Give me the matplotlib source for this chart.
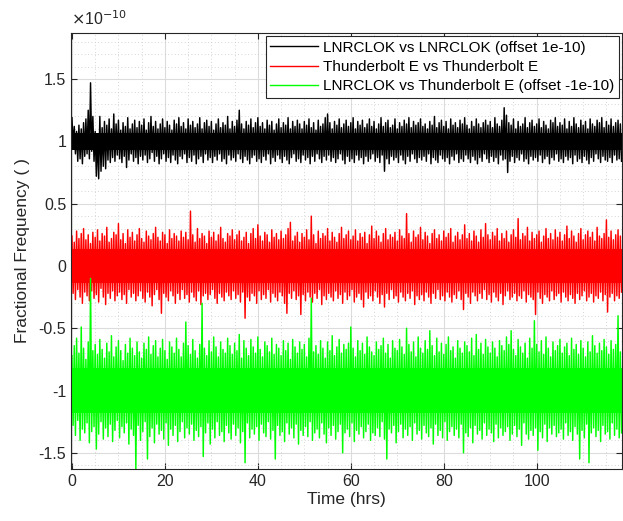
import numpy as np
import matplotlib
matplotlib.use("Agg")
import matplotlib.pyplot as plt
from matplotlib.ticker import MultipleLocator, FuncFormatter

# fractional frequency in units of 1e-12 (hundredths of the 1e-10 axis unit),
# one upper and one lower excursion per half hour
step_hrs = 0.5

black_hi = [
    119, 112, 108, 113, 110, 115, 118, 125, 147, 120,
    108, 104, 120, 111, 116, 113, 118, 110, 122, 114,
    117, 109, 115, 112, 119, 110, 114, 117, 111, 116,
    113, 118, 109, 115, 120, 112, 116, 110, 114, 118,
    111, 116, 113, 109, 117, 114, 119, 112, 115, 110,
    118, 113, 116, 111, 114, 119, 110, 115, 117, 112,
    116, 109, 114, 118, 111, 115, 113, 120, 110, 116,
    112, 117, 125, 114, 110, 116, 113, 118, 111, 115,
    119, 112, 115, 110, 117, 113, 116, 109, 114, 118,
    111, 115, 113, 119, 110, 116, 112, 117, 114, 110,
    116, 113, 118, 111, 115, 109, 117, 112, 114, 119,
    122, 115, 110, 116, 113, 118, 111, 114, 117, 112,
    115, 119, 110, 116, 113, 117, 111, 114, 118, 112,
    116, 110, 114, 119, 112, 115, 117, 111, 113, 118,
    110, 115, 112, 117, 114, 119, 111, 116, 113, 115,
    118, 112, 114, 110, 116, 113, 120, 111, 115, 117,
    112, 116, 110, 118, 113, 115, 111, 117, 114, 119,
    113, 110, 116, 112, 118, 114, 111, 115, 117, 113,
    116, 111, 119, 114, 112, 117, 127, 121, 115, 113,
    118, 110, 116, 112, 114, 119, 111, 115, 117, 112,
    114, 118, 111, 116, 113, 110, 117, 115, 119, 112,
    115, 113, 118, 110, 116, 112, 119, 114, 111, 117,
    113, 116, 110, 118, 114, 112, 117, 115, 119, 111,
    116, 113, 118, 112, 115, 117, 114]
black_lo = [
    98, 90, 84, 86, 82, 88, 90, 86, 92, 84,
    72, 70, 76, 80, 78, 85, 83, 87, 84, 89,
    86, 83, 88, 79, 85, 90, 84, 87, 82, 88,
    85, 89, 83, 86, 91, 84, 88, 82, 86, 90,
    84, 87, 83, 89, 85, 82, 88, 86, 90, 83,
    87, 84, 89, 82, 86, 88, 83, 90, 85, 87,
    83, 88, 85, 90, 84, 86, 82, 89, 85, 87,
    84, 90, 86, 83, 88, 85, 82, 87, 89, 84,
    86, 83, 88, 85, 90, 82, 87, 84, 89, 86,
    83, 88, 85, 82, 87, 90, 84, 86, 83, 89,
    85, 87, 82, 88, 84, 90, 86, 83, 88, 85,
    89, 84, 87, 83, 86, 90, 85, 82, 88, 84,
    86, 83, 89, 85, 87, 82, 88, 84, 86, 90,
    84, 87, 83, 89, 76, 86, 82, 88, 85, 87,
    83, 89, 85, 82, 88, 84, 90, 86, 83, 87,
    85, 88, 84, 90, 82, 87, 85, 83, 89, 86,
    84, 87, 82, 88, 85, 90, 83, 86, 84, 89,
    86, 83, 88, 85, 82, 87, 84, 90, 86, 83,
    88, 84, 87, 82, 89, 85, 86, 75, 84, 88,
    83, 87, 85, 90, 84, 86, 82, 88, 85, 87,
    84, 89, 83, 86, 88, 82, 87, 85, 90, 84,
    86, 83, 88, 85, 87, 82, 89, 84, 86, 83,
    88, 85, 82, 87, 84, 90, 86, 83, 88, 85,
    84, 87, 83, 89, 85, 86, 84]

red_hi = [
    24, 19, 28, 22, 26, 30, 21, 25, 18, 27,
    23, 29, 20, 26, 24, 31, 19, 22, 27, 25,
    34, 21, 26, 18, 29, 23, 27, 20, 25, 30,
    22, 19, 28, 24, 21, 26, 31, 23, 20, 27,
    25, 18, 29, 22, 26, 24, 20, 28, 23, 27,
    21, 44, 25, 19, 30, 22, 26, 24, 18, 28,
    23, 27, 20, 25, 31, 22, 19, 26, 24, 29,
    21, 25, 28, 20, 23, 27, 18, 26, 30, 22,
    33, 24, 20, 27, 25, 19, 29, 23, 26, 21,
    28, 22, 25, 30, 35, 20, 24, 27, 19, 26,
    23, 29, 21, 40, 25, 18, 28, 22, 26, 24,
    30, 20, 27, 23, 19, 26, 31, 22, 25, 28,
    21, 24, 29, 20, 26, 23, 27, 18, 25, 32,
    22, 28, 24, 19, 26, 30, 21, 25, 23, 27,
    20, 29, 24, 22, 42, 26, 19, 28, 23, 25,
    31, 21, 27, 24, 18, 26, 29, 22, 25, 20,
    28, 23, 26, 30, 19, 24, 27, 21, 25, 33,
    22, 26, 20, 28, 24, 19, 29, 23, 34, 25,
    21, 27, 24, 30, 20, 26, 22, 28, 19, 25,
    29, 23, 38, 21, 26, 24, 31, 20, 27, 22,
    25, 28, 19, 24, 30, 22, 26, 21, 29, 23,
    27, 20, 25, 32, 22, 28, 24, 19, 26, 30,
    21, 25, 28, 23, 27, 20, 31, 24, 22, 26,
    37, 23, 28, 21, 25, 29, 24]
red_lo = [
    -22, -27, -19, -25, -30, -21, -24, -28, -20, -26,
    -23, -29, -18, -25, -31, -22, -26, -20, -28, -24,
    -21, -27, -23, -30, -19, -25, -22, -28, -24, -20,
    -26, -29, -21, -25, -32, -23, -19, -27, -38, -22,
    -25, -28, -20, -24, -30, -22, -27, -19, -26, -23,
    -29, -21, -25, -28, -20, -31, -24, -22, -27, -23,
    -19, -26, -30, -22, -25, -28, -21, -24, -27, -20,
    -26, -23, -29, -21, -42, -25, -28, -22, -24, -30,
    -20, -27, -23, -26, -19, -29, -22, -25, -28, -21,
    -24, -30, -38, -22, -26, -20, -27, -24, -39, -23,
    -28, -21, -25, -29, -22, -26, -19, -31, -24, -27,
    -22, -25, -28, -20, -26, -23, -30, -21, -27, -24,
    -19, -29, -25, -22, -27, -33, -21, -26, -24, -28,
    -20, -25, -30, -23, -33, -22, -27, -19, -26, -24,
    -29, -21, -25, -28, -22, -26, -20, -31, -24, -27,
    -23, -28, -21, -25, -30, -22, -26, -19, -27, -24,
    -28, -21, -25, -29, -23, -26, -20, -27, -35, -22,
    -25, -30, -21, -24, -28, -22, -26, -19, -27, -23,
    -29, -21, -25, -28, -22, -31, -24, -20, -27, -25,
    -22, -28, -24, -26, -20, -29, -23, -25, -27, -39,
    -21, -26, -30, -23, -25, -28, -20, -27, -24, -22,
    -29, -21, -25, -28, -23, -26, -30, -22, -27, -24,
    -20, -28, -25, -22, -29, -24, -26, -21, -28, -23,
    -37, -25, -22, -28, -24, -26, -21]

green_hi = [
    -72, -64, -58, -70, -49, -66, -75, -61, -10, -68,
    -63, -71, -59, -67, -74, -62, -69, -56, -73, -65,
    -60, -68, -76, -63, -70, -58, -66, -72, -61, -69,
    -74, -62, -67, -57, -71, -64, -60, -73, -66, -59,
    -68, -75, -61, -65, -70, -58, -67, -73, -62, -45,
    -64, -71, -59, -68, -74, -63, -30, -66, -72, -60,
    -69, -57, -65, -73, -61, -67, -70, -58, -64, -71,
    -62, -68, -55, -74, -60, -66, -72, -59, -65, -70,
    -57, -67, -73, -61, -64, -69, -58, -71, -63, -66,
    -72, -60, -68, -62, -75, -59, -65, -70, -61, -67,
    -63, -73, -58, -26, -69, -64, -71, -60, -66, -74,
    -61, -68, -56, -72, -65, -59, -70, -63, -67, -62,
    -49, -66, -73, -60, -68, -62, -71, -57, -65, -69,
    -72, -61, -67, -64, -58, -70, -63, -74, -60, -66,
    -68, -59, -65, -71, -50, -63, -69, -61, -73, -57,
    -66, -70, -60, -67, -52, -64, -72, -58, -69, -62,
    -71, -63, -57, -68, -65, -74, -60, -66, -70, -61,
    -64, -69, -58, -72, -55, -67, -62, -71, -59, -65,
    -70, -61, -66, -73, -60, -64, -68, -57, -63, -52,
    -67, -72, -59, -65, -70, -62, -74, -58, -66, -44,
    -63, -69, -60, -71, -57, -66, -73, -61, -68, -64,
    -59, -70, -65, -62, -72, -58, -67, -63, -71, -60,
    -66, -73, -61, -69, -56, -64, -70, -62, -68, -59,
    -65, -71, -60, -67, -63, -40, -69]
green_lo = [
    -128, -136, -124, -140, -131, -134, -126, -142, -133, -129,
    -147, -135, -125, -139, -130, -137, -127, -141, -132, -124,
    -138, -129, -134, -126, -143, -131, -136, -163, -128, -140,
    -133, -125, -155, -137, -130, -142, -127, -135, -132, -139,
    -126, -144, -131, -136, -128, -141, -133, -125, -138, -130,
    -135, -127, -140, -132, -137, -129, -153, -134, -126, -143,
    -131, -138, -125, -136, -133, -141, -128, -134, -139, -127,
    -136, -130, -142, -133, -158, -126, -138, -131, -135, -129,
    -140, -127, -134, -137, -125, -139, -132, -155, -128, -136,
    -133, -141, -126, -135, -130, -138, -127, -143, -132, -136,
    -129, -137, -125, -140, -134, -131, -138, -126, -135, -142,
    -130, -136, -128, -139, -133, -127, -150, -134, -131, -137,
    -126, -141, -132, -135, -129, -138, -133, -127, -140, -134,
    -136, -130, -137, -125, -139, -155, -131, -134, -128, -142,
    -133, -127, -138, -131, -136, -129, -140, -126, -135, -132,
    -139, -128, -134, -137, -130, -143, -127, -136, -132, -138,
    -125, -140, -133, -129, -136, -131, -138, -127, -150, -134,
    -137, -130, -142, -128, -135, -132, -139, -126, -136, -131,
    -134, -141, -127, -138, -130, -136, -133, -129, -140, -135,
    -128, -137, -131, -144, -126, -135, -139, -132, -136, -130,
    -148, -133, -138, -127, -141, -130, -135, -128, -137, -134,
    -131, -139, -126, -136, -133, -140, -129, -135, -155, -132,
    -138, -127, -158, -134, -130, -137, -132, -141, -128, -135,
    -133, -139, -126, -136, -131, -138, -134]

# band that the trace covers solidly (same units)
black_core = (93, 107)
red_core = (-14, 14)
green_core = (-118, -82)

labels = ["LNRCLOK vs LNRCLOK (offset 1e-10)",
          "Thunderbolt E vs Thunderbolt E",
          "LNRCLOK vs Thunderbolt E (offset -1e-10)"]
colors = ["#000000", "#ff0000", "#00ff00"]

plt.rcParams["font.family"] = ["Liberation Sans", "DejaVu Sans"]
DARK = "#262626"

fig = plt.figure(figsize=(6.23, 5.21), dpi=100)
ax = fig.add_axes([0.114, 0.0998, 0.884, 0.8369])

series = [(black_hi, black_lo, black_core),
          (red_hi, red_lo, red_core),
          (green_hi, green_lo, green_core)]
for (hi, lo, core), lab, col in zip(series, labels, colors):
    hi = np.asarray(hi) / 100.0
    lo = np.asarray(lo) / 100.0
    t = np.arange(len(hi)) * step_hrs
    # trace swings from the upper to the lower excursion within each sample
    x = np.column_stack([t, t + step_hrs / 2]).ravel()
    y = np.column_stack([hi, lo]).ravel()
    ax.fill_between(x, core[0] / 100.0, core[1] / 100.0, color=col, lw=0, zorder=2)
    ax.plot(x, y, color=col, lw=1.05, label=lab, zorder=2)

ax.set_xlim(-0.2, 118.3)
ax.set_ylim(-1.63, 1.87)
ax.xaxis.set_major_locator(MultipleLocator(20))
ax.xaxis.set_minor_locator(MultipleLocator(5))
ax.yaxis.set_major_locator(MultipleLocator(0.5))
ax.yaxis.set_minor_locator(MultipleLocator(0.1))
ax.yaxis.set_major_formatter(FuncFormatter(lambda v, p: "%g" % round(v, 3)))

ax.grid(which="major", color="#dcdcdc", lw=0.8, zorder=0)
ax.grid(which="minor", color="#c8c8c8", lw=0.6, ls=(0, (1, 3)), zorder=0)
ax.set_axisbelow(True)
ax.tick_params(which="both", direction="in", top=True, right=True,
               colors=DARK, labelsize=11.5, length=4)
ax.tick_params(which="minor", length=0)
for s in ax.spines.values():
    s.set_color(DARK)
    s.set_linewidth(0.8)

ax.set_xlabel("Time (hrs)", fontsize=12.5, color=DARK, labelpad=2)
ax.set_ylabel("Fractional Frequency ( )", fontsize=12.5, color=DARK, labelpad=6)
fig.text(0.114, 0.952, r"$\times$10$^{-10}$", fontsize=11.5, color=DARK,
         ha="left", va="baseline")

leg = ax.legend(loc="upper right", fontsize=11, frameon=True, fancybox=False,
                edgecolor=DARK, framealpha=1, borderaxespad=0.2,
                handlelength=3.1, handletextpad=0.35, labelspacing=0.35,
                borderpad=0.3)
leg.get_frame().set_linewidth(0.8)
for h in leg.get_lines():
    h.set_linewidth(1.0)

fig.savefig("out.png", dpi=100)
